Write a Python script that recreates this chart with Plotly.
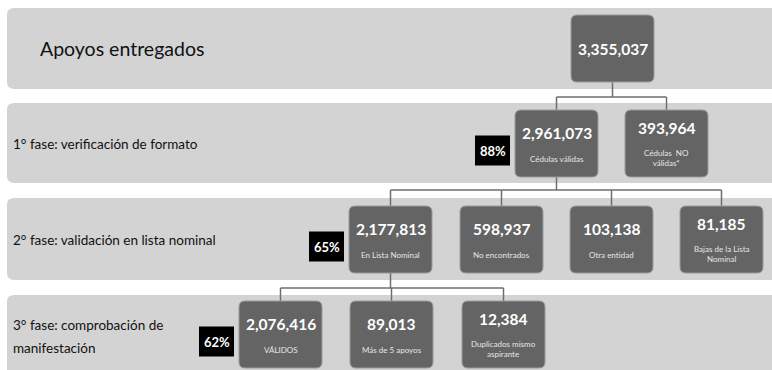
import plotly.graph_objects as go

# ---- data -------------------------------------------------------------
stage_names = [
    "Apoyos entregados",
    "1° fase: verificación de formato",
    "2° fase: validación en lista nominal",
    "3° fase: comprobación de<br>manifestación",
]
total_values = [3355037]
total_labels = [""]
fase1_values = [2961073, 393964]
fase1_labels = ["Cédulas válidas", "Cédulas  NO<br>válidas*"]
fase2_values = [2177813, 598937, 103138, 81185]
fase2_labels = ["En Lista Nominal", "No encontrados", "Otra entidad", "Bajas de la Lista<br>Nominal"]
fase3_values = [2076416, 89013, 12384]
fase3_labels = ["VÁLIDOS", "Más de 5 apoyos", "Duplicados mismo<br>aspirante"]

rows_values = [total_values, fase1_values, fase2_values, fase3_values]
rows_labels = [total_labels, fase1_labels, fase2_labels, fase3_labels]

# ---- layout geometry (pixels) -----------------------------------------
W, H = 772, 370
band_y = [(8, 89), (103, 183), (198, 280), (295, 380)]
box_top = [15, 110, 206, 301]
box_h = [67, 67, 67, 67]
box_left = [[571], [515, 625], [349, 460, 570, 680], [239, 350, 462]]
box_w = 83
link_y = [None, 97, 190, 288]
stage_label_y = [48, 144, 240, 336]

BAND = "#d3d3d3"
BOX = "#646464"
BOX_EDGE = "#9a9a9a"
LINE = "#6e6e6e"
TXT_FONT = "Lato, Open Sans, sans-serif"


def rounded(x0, y0, x1, y1, r):
    return (f"M{x0+r},{y0} L{x1-r},{y0} Q{x1},{y0} {x1},{y0+r} "
            f"L{x1},{y1-r} Q{x1},{y1} {x1-r},{y1} L{x0+r},{y1} "
            f"Q{x0},{y1} {x0},{y1-r} L{x0},{y0+r} Q{x0},{y0} {x0+r},{y0} Z")


shapes = []
annotations = []

# background bands
for (y0, y1) in band_y:
    shapes.append(dict(type="path", path=rounded(7, y0, W + 20, y1, 7),
                       fillcolor=BAND, line=dict(width=0), layer="below"))

# stage titles
for i, name in enumerate(stage_names):
    if i == 0:
        annotations.append(dict(x=38, y=stage_label_y[i], text=name, xanchor="left",
                                yanchor="middle", showarrow=False,
                                font=dict(family=TXT_FONT, size=19.5, color="#111111")))
    else:
        parts = name.split("<br>")
        for k, p in enumerate(parts):
            yy = stage_label_y[i] + (k - (len(parts) - 1) / 2) * 23
            annotations.append(dict(x=11, y=yy, text=p, xanchor="left",
                                    yanchor="middle", showarrow=False,
                                    font=dict(family=TXT_FONT, size=13.5, color="#111111")))

# connectors from the first box of each row to the boxes of the next row
for r in range(1, len(rows_values)):
    parent_cx = box_left[r - 1][0] + box_w / 2
    parent_bottom = box_top[r - 1] + box_h[r - 1]
    child_cx = [x + box_w / 2 for x in box_left[r]]
    ly = link_y[r]
    shapes.append(dict(type="line", x0=parent_cx, x1=parent_cx, y0=parent_bottom, y1=ly,
                       line=dict(color=LINE, width=1.5)))
    shapes.append(dict(type="line", x0=min(child_cx), x1=max(child_cx), y0=ly, y1=ly,
                       line=dict(color=LINE, width=1.5)))
    for cx in child_cx:
        shapes.append(dict(type="line", x0=cx, x1=cx, y0=ly, y1=box_top[r],
                           line=dict(color=LINE, width=1.5)))

# nodes
for r, (vals, labs) in enumerate(zip(rows_values, rows_labels)):
    top = box_top[r]
    for x0, v, lab in zip(box_left[r], vals, labs):
        shapes.append(dict(type="path", path=rounded(x0, top, x0 + box_w, top + box_h[r], 6),
                           fillcolor=BOX, line=dict(color=BOX_EDGE, width=1)))
        cx = x0 + box_w / 2
        two_lines = "<br>" in lab
        if r == 0:
            vy = top + box_h[r] / 2
        else:
            vy = top + (18 if two_lines else 23)
        annotations.append(dict(x=cx, y=vy, text=f"<b>{v:,}</b>", showarrow=False,
                                xanchor="center", yanchor="middle",
                                font=dict(family=TXT_FONT, size=15.5, color="white")))
        if lab:
            ly = top + (48 if two_lines else 49)
            annotations.append(dict(x=cx, y=ly, text=lab, showarrow=False,
                                    xanchor="center", yanchor="middle",
                                    font=dict(family=TXT_FONT, size=8, color="#e6e6e6")))

# share of total support kept after each phase
for r in range(1, len(rows_values)):
    pct = round(100 * rows_values[r][0] / total_values[0])
    bx1 = box_left[r][0] - 5
    bx0 = bx1 - 35
    cy = box_top[r] + box_h[r] / 2 + 7
    shapes.append(dict(type="rect", x0=bx0, x1=bx1, y0=cy - 15, y1=cy + 15,
                       fillcolor="#000000", line=dict(width=0)))
    annotations.append(dict(x=(bx0 + bx1) / 2, y=cy, text=f"<b>{pct}%</b>", showarrow=False,
                            xanchor="center", yanchor="middle",
                            font=dict(family=TXT_FONT, size=13, color="white")))

fig = go.Figure()
fig.update_layout(
    width=W, height=H, margin=dict(l=0, r=0, t=0, b=0),
    paper_bgcolor="white", plot_bgcolor="white",
    xaxis=dict(range=[0, W], visible=False, fixedrange=True),
    yaxis=dict(range=[H, 0], visible=False, fixedrange=True),
    shapes=shapes, annotations=annotations, showlegend=False,
)
fig.write_html("out.html")
